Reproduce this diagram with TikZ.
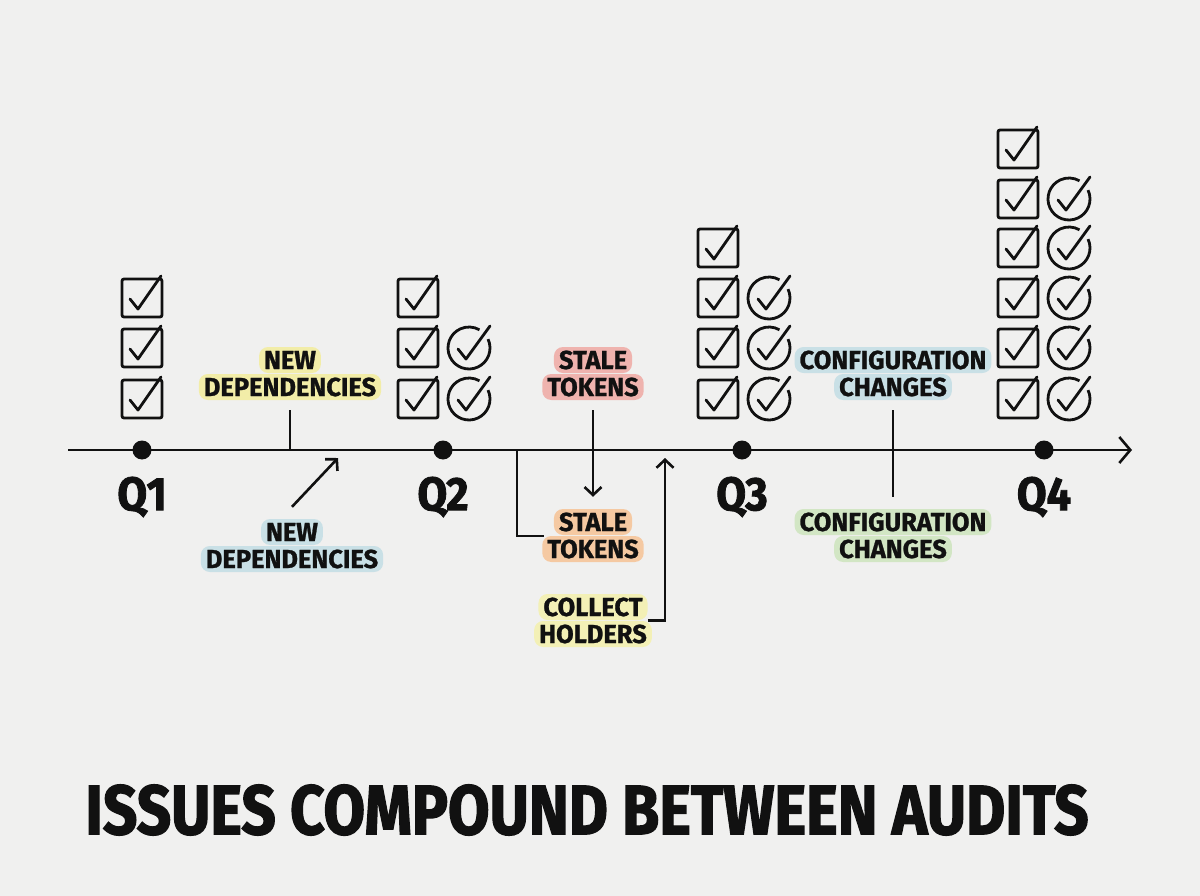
\documentclass[tikz,border=0pt]{standalone}
\usepackage{fontspec}
\setmainfont{Fira Sans}
\newfontfamily\hf{Fira Sans}[FakeStretch=0.86, FakeBold=1.8]
\newfontfamily\hfq{Fira Sans}[FakeStretch=0.92, FakeBold=1.8]
\newfontfamily\hfl{Fira Sans}[FakeStretch=0.98, FakeBold=1.0]
\usetikzlibrary{arrows.meta}
\definecolor{bg}{HTML}{F0F0EF}
\definecolor{hyel}{HTML}{F2EDA8}
\definecolor{hyel2}{HTML}{F3F0B6}
\definecolor{hblu}{HTML}{C9E0E6}
\definecolor{hred}{HTML}{EFB3AE}
\definecolor{hora}{HTML}{F5C9A2}
\definecolor{hgrn}{HTML}{D2E6C4}
\definecolor{ink}{HTML}{111111}
\tikzset{
  hl/.style={font=\hfl\bfseries\fontsize{26}{28}\selectfont, text=ink, fill=#1,
    rounded corners=9pt, inner xsep=5pt, inner ysep=4pt, text height=18pt, text depth=0pt},
  qlab/.style={font=\hfq\bfseries\fontsize{47}{50}\selectfont, text=ink},
  ttl/.style={font=\hf\bfseries\fontsize{70}{74}\selectfont, text=ink},
  ln/.style={draw=ink, line width=2.6pt},
  arr/.style={ln, -{Straight Barb[length=8pt,width=17pt]}},
  sqchk/.pic={
    \draw[ln, line width=2.8pt, rounded corners=2pt] (-20,-19) rectangle (20,19);
    \draw[ln, line width=2.8pt, line cap=round, line join=round] (-12,1) -- (-4,11) -- (19,-22);},
  cichk/.pic={
    \draw[ln, line width=2.8pt] (-25:21) arc[start angle=-25, end angle=300, radius=21];
    \draw[ln, line width=2.8pt, line cap=round, line join=round] (-11,1) -- (-3,11) -- (21,-22);},
}
\begin{document}
\begin{tikzpicture}[x=1pt,y=-1pt]
\fill[bg] (0,0) rectangle (1200,896);
\useasboundingbox (0,0) rectangle (1200,896);

% axis
\coordinate (axs) at (68,450);
\coordinate (axe) at (1132,450);
\draw[ln, -{Straight Barb[length=11pt,width=26pt]}] (axs) -- (axe);

% quarter dots and labels
\foreach \n/\x in {1/142,2/443,3/742,4/1044}{
  \fill[ink] (\x,450) circle (9.5);
  \node[qlab] (q\n) at (\x,497) {Q\n};
}

% checks Q1
\foreach \y in {298,348,399} \pic at (142,\y) {sqchk};
% Q2
\foreach \y in {298,348,399} \pic at (418,\y) {sqchk};
\foreach \y in {348,399} \pic at (469,\y) {cichk};
% Q3
\foreach \y in {248,298,348,399} \pic at (718,\y) {sqchk};
\foreach \y in {298,348,399} \pic at (769,\y) {cichk};
% Q4
\foreach \y in {149,199,248,298,348,399} \pic at (1018,\y) {sqchk};
\foreach \y in {199,248,298,348,399} \pic at (1069,\y) {cichk};

% labels above
\node[hl=hyel] (nd1b) at (290,387) {DEPENDENCIES};
\node[hl=hyel] (nd1a) at (290,360) {NEW};
\node[hl=hred] (st1b) at (593,387) {TOKENS};
\node[hl=hred] (st1a) at (593,360) {STALE};
\node[hl=hblu] (cf1b) at (893,387) {CHANGES};
\node[hl=hblu] (cf1a) at (893,360) {CONFIGURATION};

% labels below
\node[hl=hblu] (nd2b) at (292,559) {DEPENDENCIES};
\node[hl=hblu] (nd2a) at (292,532) {NEW};
\node[hl=hora] (st2b) at (593,549) {TOKENS};
\node[hl=hora] (st2a) at (593,522) {STALE};
\node[hl=hyel2] (ch1b) at (593,634) {HOLDERS};
\node[hl=hyel2] (ch1a) at (593,607) {COLLECT};
\node[hl=hgrn] (cf2b) at (893,549) {CHANGES};
\node[hl=hgrn] (cf2a) at (893,522) {CONFIGURATION};

% axis points for connectors
\coordinate (ax1) at (290,450);
\coordinate (ax2) at (338,458);
\coordinate (ax3) at (517,450);
\coordinate (ax4) at (665,458);

% connectors
\draw[ln] ([yshift=-10pt]nd1b.south) -- (ax1);
\draw[arr] ([yshift=12pt]nd2a.north) -- (ax2);
\draw[arr] ([yshift=-10pt]st1b.south) -- ([yshift=12pt]st2a.north);
\draw[ln] (ax3) |- ([xshift=2pt]st2b.north west);
\draw[arr] (ch1a.south east) -| (ax4);
\draw[ln] ([yshift=-10pt]cf1b.south) -- ([yshift=12pt]cf2a.north);

% title
\node[ttl] (title) at (587,810) {ISSUES COMPOUND BETWEEN AUDITS};
\end{tikzpicture}
\end{document}
